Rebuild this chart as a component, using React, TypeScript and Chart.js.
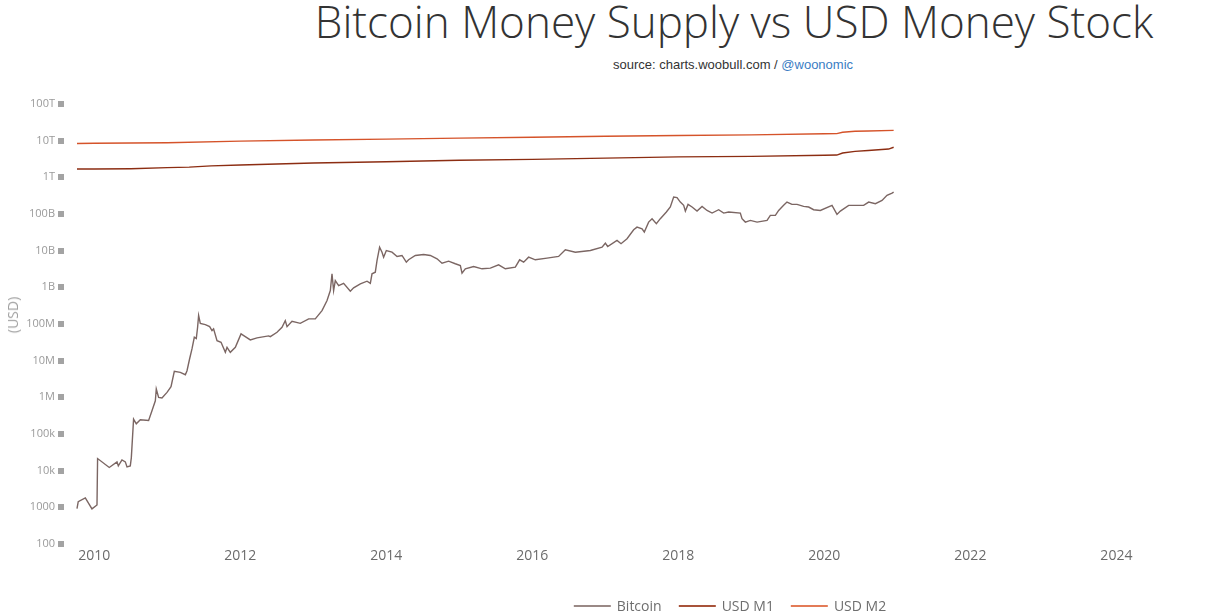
import React, { useEffect, useRef } from "react";
import { Chart, registerables } from "chart.js";

Chart.register(...registerables);

// Bitcoin market cap (USD), [decimal year, value]
const btcYears: number[] = [
  2009.763, 2009.78, 2009.877, 2009.968, 2010.037, 2010.045, 2010.205, 2010.311, 2010.329, 2010.379,
  2010.425, 2010.448, 2010.493, 2010.507, 2010.538, 2010.575, 2010.63, 2010.744, 2010.79, 2010.836,
  2010.849, 2010.881, 2010.927, 2010.996, 2011.051, 2011.096, 2011.178, 2011.247, 2011.27, 2011.305,
  2011.338, 2011.37, 2011.397, 2011.415, 2011.429, 2011.452, 2011.521, 2011.58, 2011.612, 2011.634,
  2011.681, 2011.736, 2011.795, 2011.818, 2011.863, 2011.932, 2012.01, 2012.068, 2012.137, 2012.229,
  2012.388, 2012.411, 2012.503, 2012.571, 2012.616, 2012.64, 2012.708, 2012.822, 2012.936, 2013.027,
  2013.119, 2013.188, 2013.233, 2013.256, 2013.278, 2013.301, 2013.347, 2013.415, 2013.507, 2013.552,
  2013.644, 2013.736, 2013.781, 2013.804, 2013.849, 2013.873, 2013.908, 2013.941, 2013.963, 2014.0,
  2014.078, 2014.147, 2014.215, 2014.274, 2014.305, 2014.397, 2014.511, 2014.603, 2014.695, 2014.763,
  2014.853, 2014.945, 2015.014, 2015.037, 2015.082, 2015.196, 2015.311, 2015.425, 2015.538, 2015.63,
  2015.767, 2015.826, 2015.881, 2015.949, 2016.041, 2016.201, 2016.36, 2016.452, 2016.589, 2016.795,
  2016.955, 2017.0, 2017.032, 2017.16, 2017.215, 2017.297, 2017.388, 2017.434, 2017.503, 2017.534,
  2017.593, 2017.64, 2017.699, 2017.753, 2017.836, 2017.89, 2017.936, 2017.982, 2018.027, 2018.073,
  2018.096, 2018.133, 2018.188, 2018.256, 2018.325, 2018.393, 2018.462, 2018.552, 2018.621, 2018.689,
  2018.849, 2018.872, 2018.918, 2018.986, 2019.078, 2019.215, 2019.26, 2019.329, 2019.374, 2019.442,
  2019.488, 2019.556, 2019.626, 2019.716, 2019.785, 2019.853, 2019.945, 2020.105, 2020.173, 2020.219,
  2020.333, 2020.447, 2020.538, 2020.607, 2020.699, 2020.79, 2020.858, 2020.927, 2020.949,
];
const btcValues: number[] = [
  920, 1430, 1810, 905, 1160, 21400, 12200, 17400, 13500, 19700,
  17400, 12700, 13500, 22400, 255000, 190000, 244000, 234000, 430000, 807000,
  1.69e6, 993000, 957000, 1.36e6, 1.95e6, 5.1e6, 4.79e6, 4.14e6, 5.33e6, 11.1e6,
  20.9e6, 43.4e6, 39.9e6, 81.3e6, 170e6, 104e6, 96.3e6, 84.9e6, 66.1e6, 73.5e6,
  35.2e6, 31.6e6, 16.9e6, 23.1e6, 16.9e6, 23.1e6, 53.7e6, 45.3e6, 36.8e6, 41.7e6,
  47.3e6, 45.3e6, 59.3e6, 81.3e6, 124e6, 84.9e6, 119e6, 104e6, 138e6, 138e6,
  232e6, 436e6, 818e6, 2.34e9, 818e6, 1.53e9, 1.12e9, 1.29e9, 782e6, 968e6,
  1.25e9, 1.47e9, 1.29e9, 2.34e9, 2.59e9, 5.4e9, 12.5e9, 9.1e9, 6.64e9, 10.1e9,
  9.1e9, 6.95e9, 7.4e9, 4.85e9, 5.64e9, 7.4e9, 7.87e9, 7.4e9, 6.01e9, 4.55e9,
  5.16e9, 4.39e9, 3.94e9, 2.43e9, 3.2e9, 3.7e9, 3.2e9, 3.33e9, 4.12e9, 3.2e9,
  3.54e9, 5.64e9, 4.85e9, 6.64e9, 5.64e9, 6.24e9, 6.95e9, 10.6e9, 9.1e9, 10.1e9,
  12.5e9, 16.0e9, 13.0e9, 19.0e9, 15.5e9, 21.2e9, 37.2e9, 43.9e9, 39.6e9, 32e9,
  60.1e9, 74.5e9, 54.3e9, 74.5e9, 113e9, 155e9, 290e9, 279e9, 211e9, 172e9,
  120e9, 183e9, 155e9, 120e9, 161e9, 125e9, 106e9, 131e9, 106e9, 113e9,
  106e9, 74.5e9, 60.1e9, 66.8e9, 60.1e9, 66.8e9, 91.6e9, 91.6e9, 125e9, 172e9,
  211e9, 183e9, 183e9, 161e9, 155e9, 131e9, 125e9, 172e9, 97.5e9, 120e9,
  172e9, 172e9, 172e9, 211e9, 191e9, 235e9, 322e9, 372e9, 396e9,
];

// USD money stock (USD)
const m1Years: number[] = [2009.763, 2010.0, 2010.5, 2011.0, 2011.3, 2011.6, 2012.0, 2013.0, 2014.0, 2015.0, 2016.0, 2017.0, 2018.0, 2019.0, 2020.0, 2020.17, 2020.25, 2020.42, 2020.6, 2020.88, 2020.949];
const m1Values: number[] = [1.68e12, 1.69e12, 1.72e12, 1.84e12, 1.9e12, 2.05e12, 2.16e12, 2.45e12, 2.67e12, 2.93e12, 3.09e12, 3.34e12, 3.62e12, 3.74e12, 4.0e12, 4.05e12, 4.6e12, 5.1e12, 5.4e12, 5.9e12, 6.6e12];
const m2Years: number[] = [2009.763, 2010.0, 2011.0, 2012.0, 2013.0, 2014.0, 2015.0, 2016.0, 2017.0, 2018.0, 2019.0, 2020.0, 2020.17, 2020.25, 2020.42, 2020.6, 2020.949];
const m2Values: number[] = [8.4e12, 8.5e12, 8.8e12, 9.7e12, 10.4e12, 11.0e12, 11.7e12, 12.4e12, 13.2e12, 13.8e12, 14.4e12, 15.4e12, 15.6e12, 16.9e12, 18.0e12, 18.4e12, 19.1e12];

const xTickYears: number[] = [2010, 2012, 2014, 2016, 2018, 2020, 2022, 2024];
const yTickValues: number[] = [1e2, 1e3, 1e4, 1e5, 1e6, 1e7, 1e8, 1e9, 1e10, 1e11, 1e12, 1e13, 1e14];
const yTickLabels: string[] = ["100", "1000", "10k", "100k", "1M", "10M", "100M", "1B", "10B", "100B", "1T", "10T", "100T"];

const seriesNames: string[] = ["Bitcoin", "USD M1", "USD M2"];
const seriesColors: string[] = ["#7b6663", "#8c2d12", "#d5532a"];
const legendColors: string[] = ["#9a8986", "#a8533a", "#e37b57"];

const zip = (xs: number[], ys: number[]) => xs.map((x, i) => ({ x, y: ys[i] }));

export default function App() {
  const ref = useRef<HTMLCanvasElement | null>(null);

  useEffect(() => {
    if (!ref.current) return;
    const chart = new Chart(ref.current, {
      type: "line",
      data: {
        datasets: [
          { label: seriesNames[0], data: zip(btcYears, btcValues), borderColor: seriesColors[0], borderWidth: 1.4, pointRadius: 0, tension: 0 },
          { label: seriesNames[1], data: zip(m1Years, m1Values), borderColor: seriesColors[1], borderWidth: 1.4, pointRadius: 0, tension: 0 },
          { label: seriesNames[2], data: zip(m2Years, m2Values), borderColor: seriesColors[2], borderWidth: 1.4, pointRadius: 0, tension: 0 },
        ],
      },
      options: {
        animation: false,
        responsive: false,
        maintainAspectRatio: false,
        layout: { padding: { top: 104, right: 87, bottom: 37, left: 0 } },
        plugins: { legend: { display: false }, tooltip: { enabled: false }, title: { display: false } },
        scales: {
          x: {
            type: "linear",
            min: 2009.585,
            max: 2024.255,
            afterBuildTicks: (scale: any) => {
              scale.ticks = xTickYears.map((v) => ({ value: v }));
            },
            afterFit: (scale: any) => {
              scale.height = 32;
            },
            grid: { display: false, drawTicks: false },
            border: { display: false },
            ticks: {
              padding: 4,
              autoSkip: false,
              maxRotation: 0,
              color: "#6b6b6b",
              font: { family: "'Open Sans'", size: 14 },
              callback: (v: any) => String(v),
            },
          },
          y: {
            type: "logarithmic",
            min: 100,
            max: 1e14,
            afterBuildTicks: (scale: any) => {
              scale.ticks = yTickValues.map((v) => ({ value: v }));
            },
            afterFit: (scale: any) => {
              scale.width = 64;
            },
            grid: {
              drawOnChartArea: false,
              drawTicks: true,
              tickLength: 6,
              tickWidth: 6,
              tickColor: "#a3a3a3",
              lineWidth: 6,
              color: "#a3a3a3",
            },
            border: { display: false },
            title: { display: false },
            ticks: {
              padding: 3,
              autoSkip: false,
              color: "#9a9a9a",
              font: { family: "'Open Sans'", size: 11 },
              callback: (v: any) => {
                const i = yTickValues.indexOf(Number(v));
                return i >= 0 ? yTickLabels[i] : "";
              },
            },
          },
        },
      },
    });
    return () => chart.destroy();
  }, []);

  return (
    <div style={{ position: "absolute", left: 0, top: 0, width: 1222, height: 613, background: "#fff", overflow: "hidden" }}>
      <div
        style={{
          position: "absolute",
          left: 734,
          top: -1,
          transform: "translateX(-50%)",
          whiteSpace: "nowrap",
          fontFamily: "'Open Sans'",
          fontWeight: 300,
          fontSize: 44,
          lineHeight: "44px",
          color: "#333",
        }}
      >
        Bitcoin Money Supply vs USD Money Stock
      </div>
      <div
        style={{
          position: "absolute",
          left: 733,
          top: 57,
          transform: "translateX(-50%)",
          whiteSpace: "nowrap",
          fontFamily: "'Liberation Sans', Arial",
          fontSize: 13,
          lineHeight: "15px",
          color: "#333",
        }}
      >
        source: charts.woobull.com / <span style={{ color: "#3a7dc4" }}>@woonomic</span>
      </div>
      <canvas ref={ref} width={1222} height={613} style={{ position: "absolute", left: 0, top: 0, width: 1222, height: 613 }} />
      <div
        style={{
          position: "absolute",
          left: 13,
          top: 315,
          transform: "translate(-50%, -50%) rotate(-90deg)",
          whiteSpace: "nowrap",
          fontFamily: "'Open Sans'",
          fontSize: 14,
          lineHeight: "16px",
          color: "#a0a0a0",
        }}
      >
        (USD)
      </div>
      <div
        style={{
          position: "absolute",
          left: 730,
          top: 596,
          transform: "translateX(-50%)",
          display: "flex",
          alignItems: "center",
          whiteSpace: "nowrap",
          fontFamily: "'Open Sans'",
          fontSize: 14,
          lineHeight: "20px",
          color: "#6e6e6e",
        }}
      >
        {seriesNames.map((n, i) => (
          <div key={n} style={{ display: "flex", alignItems: "center", marginLeft: i === 0 ? 0 : 17 }}>
            <div style={{ width: 37, height: 2, background: legendColors[i], marginRight: 6 }} />
            <span>{n}</span>
          </div>
        ))}
      </div>
    </div>
  );
}
